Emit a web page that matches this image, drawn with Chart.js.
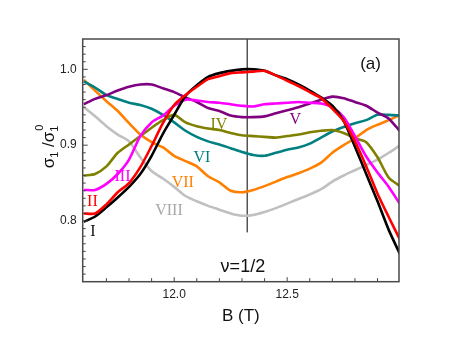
<!DOCTYPE html>
<html><head><meta charset="utf-8">
<script src="https://cdn.jsdelivr.net/npm/chart.js@4.4.0/dist/chart.umd.min.js"></script>
<style>html,body{margin:0;padding:0;background:#fff;overflow:hidden}#wrap{width:463px;height:338px;position:relative}</style>
</head><body><div id="wrap"><canvas id="c" width="463" height="338"></canvas></div>
<script>
// magnetic field B (T)
const fieldB = [11.60,11.65,11.70,11.75,11.80,11.85,11.90,11.95,12.00,12.05,12.10,12.15,12.20,12.25,12.30,12.35,12.40,12.45,12.50,12.55,12.60,12.65,12.70,12.75,12.80,12.85,12.90,12.95,13.00];
// sigma_1 / sigma_1^0 for each curve
const curveI    = [0.799,0.806,0.818,0.831,0.845,0.862,0.886,0.915,0.940,0.965,0.979,0.990,0.995,0.998,1.000,1.000,0.998,0.992,0.987,0.980,0.972,0.963,0.952,0.932,0.898,0.862,0.826,0.788,0.756];
const curveII   = [0.810,0.810,0.822,0.838,0.850,0.871,0.899,0.929,0.953,0.966,0.977,0.987,0.991,0.995,0.996,0.997,0.998,0.992,0.985,0.978,0.970,0.962,0.948,0.932,0.905,0.872,0.836,0.805,0.775];
const curveIII  = [0.841,0.841,0.849,0.862,0.881,0.912,0.930,0.939,0.952,0.960,0.959,0.957,0.956,0.954,0.952,0.951,0.954,0.955,0.956,0.957,0.956,0.955,0.950,0.937,0.912,0.885,0.864,0.845,0.822];
const curveIV   = [0.860,0.862,0.872,0.890,0.901,0.912,0.923,0.933,0.940,0.930,0.925,0.922,0.920,0.916,0.913,0.912,0.911,0.910,0.912,0.914,0.917,0.919,0.920,0.916,0.909,0.904,0.884,0.857,0.846];
const curveV    = [0.954,0.961,0.966,0.972,0.977,0.980,0.980,0.975,0.970,0.963,0.957,0.949,0.945,0.939,0.937,0.937,0.938,0.942,0.946,0.950,0.955,0.960,0.964,0.962,0.957,0.952,0.943,0.935,0.918];
const curveVI   = [0.984,0.976,0.966,0.961,0.956,0.953,0.948,0.940,0.930,0.919,0.911,0.905,0.901,0.896,0.891,0.887,0.886,0.890,0.894,0.897,0.902,0.910,0.918,0.924,0.929,0.933,0.940,0.940,0.939];
const curveVII  = [0.986,0.972,0.958,0.945,0.929,0.914,0.904,0.897,0.886,0.879,0.872,0.859,0.851,0.840,0.838,0.841,0.846,0.852,0.858,0.863,0.869,0.877,0.890,0.900,0.909,0.920,0.927,0.933,0.940];
const curveVIII = [0.950,0.938,0.925,0.914,0.905,0.884,0.866,0.856,0.845,0.833,0.826,0.820,0.815,0.810,0.807,0.808,0.812,0.817,0.823,0.829,0.835,0.842,0.852,0.860,0.867,0.874,0.881,0.890,0.900];
const curveNames = ['II','I','III','IV','V','VI','VII','VIII'];
const curveValues = [curveII, curveI, curveIII, curveIV, curveV, curveVI, curveVII, curveVIII];
// nu = 1/2 marker line
const markerB = [12.323, 12.323];
const markerV = [0.785, 1.04];
// tick labels
const xTickValues = [12.0, 12.5];
const yTickValues = [0.8, 0.9, 1.0];
// curve label anchors (data units)
const labelB = {I:11.640, II:11.638, III:11.771, IV:12.198, V:12.536, VI:12.123, VII:12.038, VIII:11.977};
const labelV = {I:0.786, II:0.825, III:0.858, IV:0.927, V:0.933, VI:0.883, VII:0.850, VIII:0.814};

const colors = {I:'#000000', II:'#ff0000', III:'#ff00ff', IV:'#808000', V:'#800080', VI:'#008080', VII:'#ff8000', VIII:'#c0c0c0'};
const textColors = {I:'#111111', II:'#ff0000', III:'#ff00ff', IV:'#808000', V:'#800080', VI:'#008080', VII:'#ff8000', VIII:'#a8a8a8'};

const datasets = curveNames.map((n, k) => ({
  label: n,
  data: fieldB.map((b, i) => ({x: b, y: curveValues[k][i]})),
  borderColor: colors[n], borderWidth: 2.6, pointRadius: 0, tension: 0.25, fill: false
}));
datasets.push({label:'nu', data: markerB.map((b,i)=>({x:b,y:markerV[i]})), borderColor:'#000', borderWidth:1, pointRadius:0, fill:false});

const SANS = '"Liberation Sans", Arial, sans-serif';
const SERIF = '"Liberation Serif", "Times New Roman", serif';

const annot = {
  id: 'annot',
  afterDatasetsDraw(chart) {
    const {ctx, chartArea: a, scales: {x, y}} = chart;
    ctx.save();
    // ticks (inward)
    ctx.strokeStyle = '#444'; ctx.lineWidth = 1;
    for (let k = Math.ceil(x.min * 10); k <= Math.floor(x.max * 10); k++) {
      const px = x.getPixelForValue(k / 10);
      if (px < a.left + 2 || px > a.right - 2) continue;
      const len = (k % 5 === 0) ? 4.5 : 3.5;
      ctx.beginPath(); ctx.moveTo(px, a.bottom); ctx.lineTo(px, a.bottom - len); ctx.stroke();
    }
    for (let k = Math.ceil(y.min * 100); k <= Math.floor(y.max * 100); k++) {
      const py = y.getPixelForValue(k / 100);
      if (py < a.top + 2 || py > a.bottom - 2) continue;
      const len = (k % 10 === 0) ? 5 : 3;
      ctx.beginPath(); ctx.moveTo(a.left, py); ctx.lineTo(a.left + len, py); ctx.stroke();
    }
    // frame
    ctx.strokeStyle = '#4a4a4a'; ctx.lineWidth = 1.5;
    ctx.strokeRect(a.left, a.top, a.right - a.left, a.bottom - a.top);
    // curve labels
    ctx.font = '16px ' + SERIF; ctx.textAlign = 'center'; ctx.textBaseline = 'middle';
    for (const n of Object.keys(labelB)) {
      ctx.fillStyle = textColors[n];
      ctx.fillText(n, x.getPixelForValue(labelB[n]), y.getPixelForValue(labelV[n]));
    }
    // panel label and filling factor
    ctx.fillStyle = '#111';
    ctx.font = '17px ' + SANS;
    ctx.fillText('(a)', x.getPixelForValue(12.869), y.getPixelForValue(1.007));
    ctx.font = '18px ' + SANS;
    ctx.fillText('\u03bd=1/2', x.getPixelForValue(12.304), y.getPixelForValue(0.739));
    // y-axis title sigma_1 / sigma_1^0
    ctx.translate(48, 147); ctx.rotate(-Math.PI / 2);
    ctx.textAlign = 'left'; ctx.textBaseline = 'alphabetic';
    const big = '17px ' + SANS, small = '11px ' + SANS;
    const parts = [['\u03c3', big, 0], ['1', small, 4], [' /', big, 0], ['\u03c3', big, 0], ['1', small, 4]];
    let w = 0;
    parts.forEach(p => { ctx.font = p[1]; w += ctx.measureText(p[0]).width; });
    let cx = -w / 2;
    let lastSubX = 0;
    parts.forEach(p => { ctx.font = p[1]; lastSubX = cx; ctx.fillText(p[0], cx, 6 + p[2]); cx += ctx.measureText(p[0]).width; });
    ctx.font = small; ctx.fillText('0', lastSubX + 1, -5);
    ctx.restore();
  }
};

new Chart(document.getElementById('c'), {
  type: 'line',
  data: { datasets },
  options: {
    responsive: false, animation: false, devicePixelRatio: 1,
    layout: { padding: { left: 0, top: 39, right: 64, bottom: 0 } },
    plugins: { legend: { display: false }, tooltip: { enabled: false } },
    scales: {
      x: {
        type: 'linear', min: 11.595, max: 12.995,
        grid: { display: false, drawTicks: false }, border: { display: false },
        afterBuildTicks: s => { s.ticks = xTickValues.map(v => ({value: v})); },
        afterFit: s => { s.height = 338 - 281.7; },
        ticks: { padding: 6, color: '#222', font: { family: SANS, size: 12 }, callback: v => Number(v).toFixed(1), maxRotation: 0 },
        title: { display: true, text: 'B (T)', color: '#111', font: { family: SANS, size: 17 }, padding: { top: 0, bottom: 11 } }
      },
      y: {
        type: 'linear', min: 0.72, max: 1.04,
        grid: { display: false, drawTicks: false }, border: { display: false },
        afterBuildTicks: s => { s.ticks = yTickValues.map(v => ({value: v})); },
        afterFit: s => { s.width = 82.7; },
        ticks: { padding: 6, color: '#222', font: { family: SANS, size: 12 }, callback: v => Number(v).toFixed(1) }
      }
    }
  },
  plugins: [annot]
});
</script></body></html>
